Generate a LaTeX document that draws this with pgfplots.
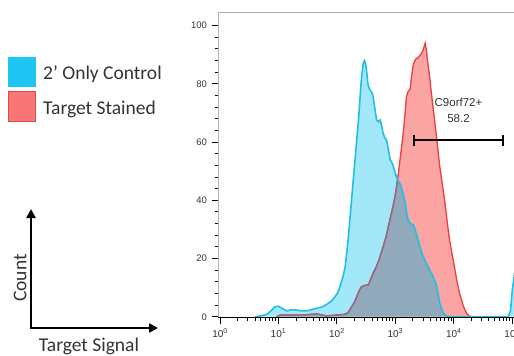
\documentclass[border=0pt]{standalone}
\usepackage{pgfplots}
\pgfplotsset{compat=1.18}
\usepackage{pgfplotstable}
\usetikzlibrary{arrows.meta}
\usepackage{fontspec}
\setmainfont{Carlito}
\newfontfamily\arial{Liberation Sans}

\definecolor{bluefill}{HTML}{A3E8F9}
\definecolor{blueline}{HTML}{22BEE6}
\definecolor{redfill}{HTML}{FBA4A4}
\definecolor{redline}{HTML}{EE3D3D}
\definecolor{overlap}{HTML}{90A9BB}
\definecolor{purpleline}{HTML}{8A6C8C}
\definecolor{legblue}{HTML}{1EC4F2}
\definecolor{legred}{HTML}{F87676}
\definecolor{legredb}{HTML}{E04A4A}
\definecolor{txt}{HTML}{333333}

\pgfplotstableread{
x y
0.60 0
0.70 0.3
0.80 0.8
0.88 2.2
0.94 3.4
1.00 3.6
1.05 3.0
1.14 2.0
1.22 2.4
1.31 2.3
1.40 2.0
1.48 2.0
1.56 2.4
1.65 2.9
1.74 3.3
1.82 4.2
1.90 5.3
1.97 6.9
2.02 8.5
2.05 10.3
2.10 13.5
2.14 17
2.19 26
2.25 40
2.31 54
2.37 68
2.42 82
2.45 87
2.47 88
2.49 87
2.51 84
2.53 80
2.55 78.5
2.58 77.5
2.60 77
2.62 75.6
2.66 70
2.68 67.6
2.71 67
2.74 67.6
2.76 66
2.79 63
2.82 61.5
2.85 60.7
2.88 57.5
2.91 54
2.94 53
2.96 52
2.99 50
3.02 48
3.05 46.5
3.08 45.8
3.12 43
3.16 40
3.19 36
3.22 33
3.26 32
3.31 31.5
3.36 28.6
3.42 24
3.47 21
3.53 18.3
3.60 15.5
3.65 13.7
3.71 10.3
3.76 4.6
3.81 1.8
3.85 0.6
3.90 0
4.93 0
4.97 2
5.00 9
5.04 15
}\control

\pgfplotstableread{
x y
0.97 0
1.03 0.6
1.31 0.6
1.50 0.7
1.65 1.0
1.75 0.6
1.82 0.3
2.00 0.6
2.12 0.8
2.17 1.1
2.21 2.0
2.25 3.4
2.30 5.0
2.34 6.9
2.38 9.0
2.42 10.3
2.48 10.8
2.54 11
2.58 13
2.62 15
2.67 17
2.71 19
2.75 21.5
2.79 24
2.84 27.5
2.88 31
2.92 34.5
2.96 38
3.00 42
3.02 44.7
3.05 49
3.08 54
3.11 59
3.14 64
3.17 71
3.19 75.6
3.22 77.5
3.25 78
3.28 83
3.31 87
3.35 88.5
3.39 89
3.45 90.5
3.48 92
3.51 94
3.53 91.6
3.55 88
3.58 83.6
3.61 78
3.65 71
3.68 66
3.71 60.7
3.76 51.5
3.80 46
3.85 39
3.89 32
3.93 26
3.98 20.5
4.02 16
4.06 11.5
4.10 8
4.15 4.5
4.19 2.3
4.23 0.9
4.28 0
}\stained

\pgfplotstableread{
x y
0.97 0
1.03 0.6
1.31 0.6
1.50 0.7
1.65 1.0
1.75 0.6
1.82 0.3
2.00 0.6
2.12 0.8
2.17 1.1
2.21 2.0
2.25 3.4
2.30 5.0
2.34 6.9
2.38 9.0
2.42 10.3
2.48 10.8
2.54 11
2.58 13
2.62 15
2.67 17
2.71 19
2.75 21.5
2.79 24
2.84 27.5
2.88 31
2.92 34.5
2.96 38
3.00 42
3.02 44.7
3.037 47.2
3.05 46.5
3.08 45.8
3.12 43
3.16 40
3.19 36
3.22 33
3.26 32
3.31 31.5
3.36 28.6
3.42 24
3.47 21
3.53 18.3
3.60 15.5
3.65 13.7
3.71 10.3
3.76 4.6
3.81 1.8
3.85 0.6
3.90 0
}\overlapdata

\begin{document}
\begin{tikzpicture}
\useasboundingbox (0,0) rectangle (514pt,-356pt);
% legend
\fill[legblue] (8pt,-57pt) rectangle (36pt,-87pt);
\filldraw[fill=legred, draw=legredb, line width=0.8pt] (8.4pt,-91.4pt) rectangle (35.6pt,-121.6pt);
\node[anchor=west, inner sep=0pt, text=txt, font=\fontsize{19.5}{19.5}\selectfont] at (43pt,-74pt) {2’ Only Control};
\node[anchor=west, inner sep=0pt, text=txt, font=\fontsize{19.5}{19.5}\selectfont] at (43pt,-109pt) {Target Stained};
% schematic axes
\draw[line width=2.6pt, {Triangle[length=9pt,width=9pt]}-{Triangle[length=9pt,width=9pt]}] (31pt,-209pt) |- (158pt,-328pt);
\node[rotate=90, inner sep=0pt, text=txt, font=\fontsize{19.5}{19.5}\selectfont] at (20pt,-278pt) {Count};
\node[inner sep=0pt, text=txt, font=\fontsize{19.5}{19.5}\selectfont] at (89pt,-346pt) {Target Signal};

\begin{axis}[
  at={(218pt,-317.6pt)}, anchor=south west,
  scale only axis, width=296pt, height=305.6pt,
  xmin=-0.035, xmax=5.03, ymin=-0.3, ymax=104.7,
  axis line style={gray!60, line width=0.6pt},
  tick align=outside, tick pos=left,
  major tick length=6.5pt, minor tick length=3.5pt,
  every tick/.style={black, line width=1pt},
  xtick={0,1,2,3,4,5},
  xticklabels={10\textsuperscript{0},10\textsuperscript{1},10\textsuperscript{2},10\textsuperscript{3},10\textsuperscript{4},10\textsuperscript{5}},
  minor xtick={0.301,0.477,0.602,0.699,0.778,0.845,0.903,0.954,
               1.301,1.477,1.602,1.699,1.778,1.845,1.903,1.954,
               2.301,2.477,2.602,2.699,2.778,2.845,2.903,2.954,
               3.301,3.477,3.602,3.699,3.778,3.845,3.903,3.954,
               4.301,4.477,4.602,4.699,4.778,4.845,4.903,4.954},
  ytick={0,20,40,60,80,100},
  minor y tick num=4,
  /pgf/number format/assume math mode=true,
  xticklabel style={font=\arial\fontsize{10}{10}\selectfont, text=txt, yshift=-1pt},
  yticklabel style={font=\arial\fontsize{9.5}{9.5}\selectfont, text=txt, xshift=-1pt},
  clip=true,
]
\addplot[draw=none, fill=redfill] table[x=x,y=y] {\stained} \closedcycle;
\addplot[draw=none, fill=bluefill] table[x=x,y=y] {\control} \closedcycle;
\addplot[draw=none, fill=overlap] table[x=x,y=y] {\overlapdata} \closedcycle;
\addplot[redline, line width=1.3pt] table[x=x,y=y] {\stained};
\addplot[purpleline, line width=1.3pt, restrict x to domain=0:3.04] table[x=x,y=y] {\overlapdata};
\addplot[blueline, line width=1.6pt] table[x=x,y=y] {\control};
\draw[black, line width=1.3pt] (axis cs:-0.035,-0.3) -- (axis cs:5.03,-0.3);
\draw[black, line width=1.6pt, {Bar[width=11pt]}-{Bar[width=11pt]}] (axis cs:3.31,60.7) -- (axis cs:4.86,60.7);
\node[font=\arial\fontsize{11.5}{11.5}\selectfont, text=txt] at (axis cs:4.08,73.8) {C9orf72+};
\node[font=\arial\fontsize{11.5}{11.5}\selectfont, text=txt] at (axis cs:4.08,68.0) {58.2};
\end{axis}
\end{tikzpicture}
\end{document}
